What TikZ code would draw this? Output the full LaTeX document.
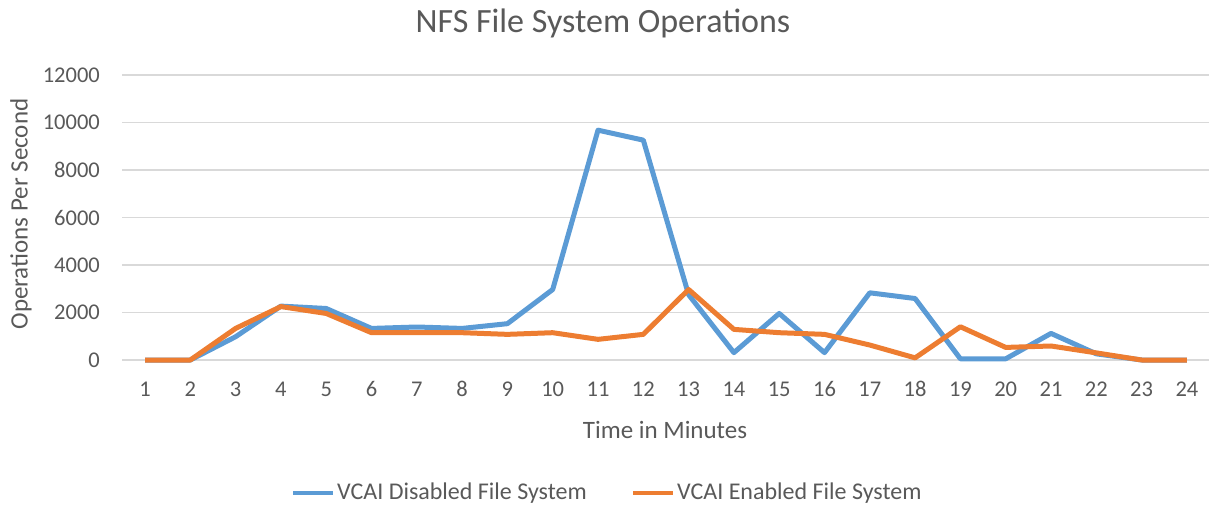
\documentclass[tikz,border=0pt]{standalone}
\usepackage{fontspec}
\setmainfont{Carlito}
\definecolor{txtgray}{HTML}{595959}
\definecolor{gridgray}{HTML}{D9D9D9}
\definecolor{disblue}{HTML}{5B9BD5}
\definecolor{enaorange}{HTML}{ED7D31}
\begin{document}
\begin{tikzpicture}[x=1pt,y=-1pt,
  lbl/.style={text=txtgray,font=\fontsize{22.5}{26}\selectfont,inner sep=0pt},
  axtitle/.style={text=txtgray,font=\fontsize{25}{29}\selectfont,inner sep=0pt},
  gridline/.style={gridgray,line width=1.5pt},
  disabled/.style={disblue,line width=5pt,line join=round},
  enabled/.style={enaorange,line width=5pt,line join=round}]
\useasboundingbox (0,0) rectangle (1209,505);
\node[text=txtgray,font=\fontsize{34}{38}\selectfont] (title) at (603,23) {NFS File System Operations};
% y axis
\foreach \v in {0,2000,...,12000}{
  \pgfmathsetmacro\yy{360-\v*0.02375}
  \draw[gridline] (122,\yy) -- (1209,\yy);
  \node[lbl,anchor=east] (ytick\v) at (100,\yy) {\v};
}
\node[axtitle,rotate=90] (ytitle) at (21,214) {Operations Per Second};
% x axis
\foreach \i in {1,...,24}{
  \pgfmathsetmacro\xx{145+(\i-1)*45.3}
  \node[lbl] (xtick\i) at (\xx,389) {\i};
}
\node[axtitle] (xtitle) at (665,430) {Time in Minutes};
% data
\begin{scope}[shift={(145,360)},x=45.3pt,y=0.02375pt]
\draw[disabled] plot coordinates {(0,0) (1,0) (2,980) (3,2270) (4,2170) (5,1330) (6,1390) (7,1330)
  (8,1530) (9,2970) (10,9680) (11,9260) (12,2750) (13,310) (14,1960) (15,310) (16,2830) (17,2590)
  (18,50) (19,50) (20,1120) (21,260) (22,0) (23,0)};
\draw[enabled] plot coordinates {(0,0) (1,0) (2,1330) (3,2250) (4,1960) (5,1150) (6,1150) (7,1150)
  (8,1080) (9,1150) (10,870) (11,1080) (12,2970) (13,1290) (14,1150) (15,1080) (16,630) (17,90)
  (18,1400) (19,530) (20,590) (21,300) (22,0) (23,0)};
\end{scope}
% legend
\coordinate (ldisA) at (293,493);
\coordinate (ldisB) at (333,493);
\coordinate (lenaA) at (633,493);
\coordinate (lenaB) at (673,493);
\draw[disabled,line width=4pt] (ldisA) -- (ldisB);
\node[axtitle,font=\fontsize{24}{28}\selectfont,anchor=west] (ldis) at (337,493) {VCAI Disabled File System};
\draw[enabled,line width=4pt] (lenaA) -- (lenaB);
\node[axtitle,font=\fontsize{24}{28}\selectfont,anchor=west] (lena) at (677,493) {VCAI Enabled File System};
\end{tikzpicture}
\end{document}
